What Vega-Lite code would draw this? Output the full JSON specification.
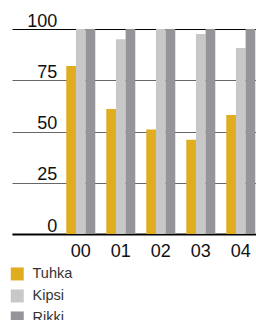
{
  "$schema": "https://vega.github.io/schema/vega-lite/v6.json",
  "width": 244,
  "height": 205,
  "autosize": {"type": "none"},
  "padding": {"left": 12, "top": 29, "right": 0, "bottom": 86},
  "background": "white",
  "config": {"view": {"stroke": null}, "font": "Liberation Sans"},
  "data": {"values": [
    {"year": "00", "series": "Tuhka", "value": 82},
    {"year": "00", "series": "Kipsi", "value": 100},
    {"year": "00", "series": "Rikki", "value": 100},
    {"year": "01", "series": "Tuhka", "value": 61},
    {"year": "01", "series": "Kipsi", "value": 95},
    {"year": "01", "series": "Rikki", "value": 100},
    {"year": "02", "series": "Tuhka", "value": 51},
    {"year": "02", "series": "Kipsi", "value": 100},
    {"year": "02", "series": "Rikki", "value": 100},
    {"year": "03", "series": "Tuhka", "value": 46},
    {"year": "03", "series": "Kipsi", "value": 97.6},
    {"year": "03", "series": "Rikki", "value": 100},
    {"year": "04", "series": "Tuhka", "value": 58},
    {"year": "04", "series": "Kipsi", "value": 90.7},
    {"year": "04", "series": "Rikki", "value": 100}
  ]},
  "mark": {"type": "bar"},
  "encoding": {
    "x": {
      "field": "year", "type": "nominal",
      "scale": {"paddingInner": 0.275, "paddingOuter": 0.6875, "align": 0.987},
      "axis": {
        "title": null, "labelAngle": 0, "ticks": false,
        "domainColor": "#000", "domainWidth": 2,
        "labelFontSize": 18, "labelColor": "#111", "labelPadding": 8
      }
    },
    "xOffset": {"field": "series", "type": "nominal", "sort": ["Tuhka", "Kipsi", "Rikki"], "scale": {"paddingInner": 0, "paddingOuter": 0}},
    "y": {
      "field": "value", "type": "quantitative",
      "scale": {"domain": [0, 100], "nice": false},
      "axis": {
        "title": null, "values": [0, 25, 50, 75, 100], "domain": false, "ticks": false,
        "grid": true,
        "gridColor": {"condition": {"test": "datum.value === 100", "value": "#000"}, "value": "#666"},
        "gridWidth": 1,
        "labelAlign": "right", "labelBaseline": "alphabetic", "labelPadding": -44.7, "labelOffset": -3,
        "labelFontSize": 18, "labelColor": "#111"
      }
    },
    "color": {
      "field": "series", "type": "nominal",
      "scale": {"domain": ["Tuhka", "Kipsi", "Rikki"], "range": ["#E0AC20", "#C8C8C8", "#949499"]},
      "legend": {
        "title": null, "orient": "none", "legendX": -2, "legendY": 237.7, "padding": 0,
        "symbolType": "square", "symbolSize": 169, "symbolStrokeWidth": 0, "symbolOpacity": 1,
        "labelFontSize": 14.5, "labelColor": "#333", "labelOffset": 8, "rowPadding": 7
      }
    }
  }
}
